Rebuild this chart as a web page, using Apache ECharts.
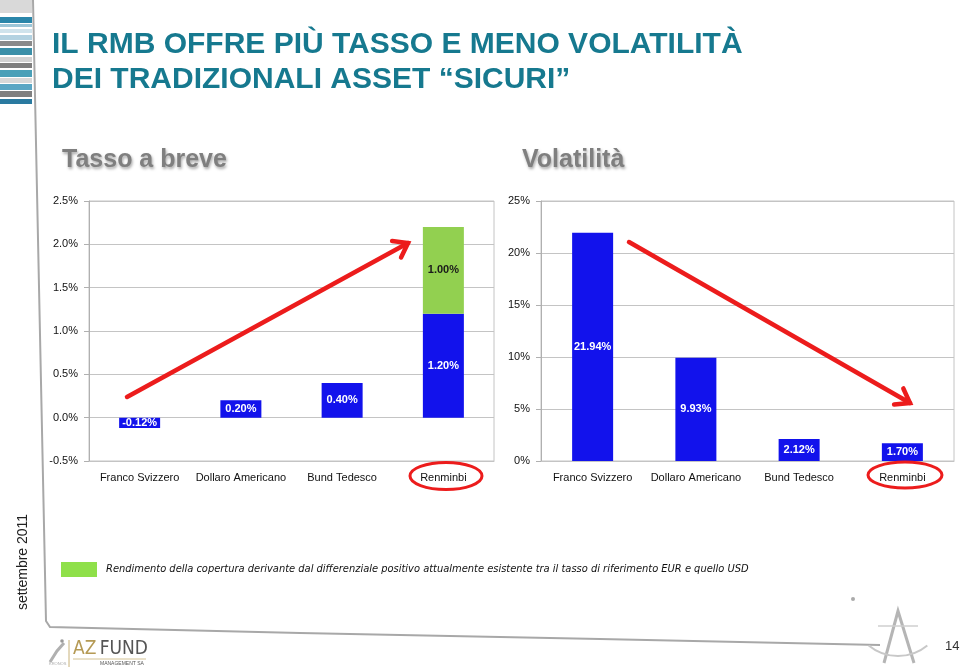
<!DOCTYPE html>
<html>
<head>
<meta charset="utf-8">
<script src="https://cdn.jsdelivr.net/npm/echarts@6/dist/echarts.min.js"></script>
<style>
html,body{margin:0;padding:0;background:#fff;}
#chart{width:960px;height:672px;}
</style>
</head>
<body>
<div id="chart"></div>
<script>
// ---- data ----
var categories = ['Franco Svizzero', 'Dollaro Americano', 'Bund Tedesco', 'Renminbi'];
var tassoBase = [-0.12, 0.20, 0.40, 1.20];
var tassoCopertura = [null, null, null, 1.00];
var volatilita = [21.94, 9.93, 2.12, 1.70];
var tassoTicks = { min: -0.5, max: 2.5, interval: 0.5 };
var volTicks = { min: 0, max: 25, interval: 5 };
var titleLines = ['IL RMB OFFRE PIÙ TASSO E MENO VOLATILITÀ', 'DEI TRADIZIONALI ASSET \u201CSICURI\u201D'];
var panelTitles = ['Tasso a breve', 'Volatilità'];
var legendText = 'Rendimento della copertura derivante dal differenziale positivo attualmente esistente tra il tasso di riferimento EUR e quello USD';

var BLUE = '#1212ec';
var GREEN = '#92d050';
var RED = '#ec1c1c';
var FONT = 'Liberation Sans, Arial, Helvetica, sans-serif';
var NARROW = 'Liberation Sans Narrow, DejaVu Sans Condensed, sans-serif';

function arrow(x1, y1, x2, y2) {
  var ang = Math.atan2(y2 - y1, x2 - x1) + Math.PI;
  var L = 16, a = 0.62;
  var w1 = [x2 + L * Math.cos(ang - a), y2 + L * Math.sin(ang - a)];
  var w2 = [x2 + L * Math.cos(ang + a), y2 + L * Math.sin(ang + a)];
  return [
    { type: 'line', z: 100, shape: { x1: x1, y1: y1, x2: x2, y2: y2 }, style: { stroke: RED, lineWidth: 4.5, lineCap: 'round' } },
    { type: 'polyline', z: 100, shape: { points: [w1, [x2, y2], w2] }, style: { stroke: RED, lineWidth: 4.5, fill: null, lineJoin: 'miter', lineCap: 'round' } }
  ];
}

var stripes = [
  [0, 13, '#d9d9d9'], [17, 6, '#2a86aa'], [24, 3, '#9cc6d8'], [29, 4, '#cfe3ec'],
  [35, 5, '#b3d2e1'], [41, 5, '#8a8a8a'], [48, 7, '#3b8fa8'], [57, 5, '#d2d2d2'],
  [63, 5, '#7f7f7f'], [70, 7, '#4aa0b8'], [78, 5, '#d8d8d8'], [84, 6, '#5aa6c4'],
  [91, 6, '#808080'], [99, 5, '#2a7aa0']
];
var graphics = [];
stripes.forEach(function (s) {
  graphics.push({ type: 'rect', shape: { x: 0, y: s[0], width: 32, height: s[1] }, style: { fill: s[2] } });
});
// frame line
graphics.push({ type: 'polyline', shape: { points: [[33, 0], [46, 621], [50, 627], [300, 633], [600, 639], [880, 645]] },
  style: { stroke: '#a8a8a8', lineWidth: 2, fill: null } });
// title
graphics.push({ type: 'text', left: 52, top: 27, style: { text: titleLines[0] + '\n' + titleLines[1], font: 'bold 30px ' + FONT, fill: '#16798f', lineHeight: 35 } });
// panel titles
[[62, 0], [522, 1]].forEach(function (p) {
  graphics.push({ type: 'text', left: p[0], top: 148, style: { text: panelTitles[p[1]], font: 'bold 25px ' + FONT, fill: '#7f7f7f',
    textShadowColor: 'rgba(0,0,0,0.35)', textShadowBlur: 3, textShadowOffsetX: 1, textShadowOffsetY: 2 } });
});
// arrows
graphics = graphics.concat(arrow(127, 397, 408, 243));
graphics = graphics.concat(arrow(629, 242, 910, 403));
// ellipses
graphics.push({ type: 'ellipse', z: 100, shape: { cx: 446, cy: 476, rx: 36, ry: 13.5 }, style: { stroke: RED, lineWidth: 3, fill: null } });
graphics.push({ type: 'ellipse', z: 100, shape: { cx: 905, cy: 475, rx: 37, ry: 13 }, style: { stroke: RED, lineWidth: 3, fill: null } });
// date rotated
graphics.push({ type: 'text', x: 23, y: 562, rotation: Math.PI / 2, style: { text: 'settembre 2011', font: '14px ' + FONT, fill: '#222', align: 'center', verticalAlign: 'middle' } });
// logo
graphics.push({ type: 'polyline', shape: { points: [[50, 662], [57, 651], [64, 643]] }, style: { stroke: '#b0b0b0', lineWidth: 3, fill: null } });
graphics.push({ type: 'circle', shape: { cx: 62, cy: 641, r: 1.8 }, style: { fill: '#999' } });
graphics.push({ type: 'text', left: 49, top: 662, style: { text: 'KRONOS', font: '4px ' + FONT, fill: '#aaa' } });
graphics.push({ type: 'line', shape: { x1: 69, y1: 640, x2: 69, y2: 667 }, style: { stroke: '#c8b27a', lineWidth: 1 } });
graphics.push({ type: 'text', left: 73, top: 640, style: { rich: { a: { font: '19px ' + NARROW, fill: '#b59a55' }, b: { font: '19px ' + NARROW, fill: '#555' } }, text: '{a|AZ} {b|FUND}' } });
graphics.push({ type: 'line', shape: { x1: 73, y1: 659, x2: 146, y2: 659 }, style: { stroke: '#c8b27a', lineWidth: 0.8 } });
graphics.push({ type: 'text', left: 100, top: 661, style: { text: 'MANAGEMENT SA', font: '5px ' + FONT, fill: '#555' } });
// compass
graphics.push({ type: 'circle', shape: { cx: 853, cy: 599, r: 2 }, style: { fill: '#aaa' } });
graphics.push({ type: 'polyline', shape: { points: [[884, 663], [898, 611], [914, 663]] }, style: { stroke: '#b5b5b5', lineWidth: 3, fill: null } });
graphics.push({ type: 'arc', shape: { cx: 898, cy: 610, r: 46, startAngle: Math.PI * 0.28, endAngle: Math.PI * 0.72 }, style: { stroke: '#c8c8c8', lineWidth: 2, fill: null } });
graphics.push({ type: 'line', shape: { x1: 878, y1: 626, x2: 918, y2: 626 }, style: { stroke: '#cfcfcf', lineWidth: 1.5 } });
graphics.push({ type: 'text', left: 945, top: 640, style: { text: '14', font: '13px ' + FONT, fill: '#333' } });

var pct1 = function (v) { return v.toFixed(1) + '%'; };
var pct0 = function (v) { return v + '%'; };
var lbl = function (p) { return p.value == null ? '' : p.value.toFixed(2) + '%'; };

var axisLabelY = { fontSize: 11, color: '#111', fontFamily: FONT, margin: 11 };
var axisLabelX = { fontSize: 11, color: '#111', fontFamily: FONT, margin: 11, interval: 0 };

var option = {
  backgroundColor: '#fff',
  animation: false,
  graphic: graphics,
  grid: [
    { left: 89, top: 201, width: 405, height: 260, show: true, borderColor: '#c4c4c4', borderWidth: 1 },
    { left: 541, top: 201, width: 413, height: 260, show: true, borderColor: '#c4c4c4', borderWidth: 1 }
  ],
  legend: {
    left: 56, top: 557, itemWidth: 36, itemHeight: 15, icon: 'rect', itemGap: 10,
    data: [{ name: legendText, itemStyle: { color: '#8fe04a' } }],
    textStyle: { fontFamily: NARROW, fontStyle: 'italic', fontSize: 11, color: '#111', padding: [0, 0, 0, 4] },
    selectedMode: false
  },
  xAxis: [
    { type: 'category', gridIndex: 0, data: categories, position: 'bottom',
      axisLine: { onZero: false, lineStyle: { color: '#c4c4c4' } }, axisTick: { show: false }, axisLabel: axisLabelX },
    { type: 'category', gridIndex: 1, data: categories, position: 'bottom',
      axisLine: { onZero: false, lineStyle: { color: '#c4c4c4' } }, axisTick: { show: false }, axisLabel: axisLabelX }
  ],
  yAxis: [
    { type: 'value', gridIndex: 0, min: tassoTicks.min, max: tassoTicks.max, interval: tassoTicks.interval,
      axisLine: { show: true, lineStyle: { color: '#b0b0b0' } }, axisTick: { show: true, length: 5, lineStyle: { color: '#b0b0b0' } },
      splitLine: { lineStyle: { color: '#c4c4c4' } }, axisLabel: Object.assign({ formatter: pct1 }, axisLabelY) },
    { type: 'value', gridIndex: 1, min: volTicks.min, max: volTicks.max, interval: volTicks.interval,
      axisLine: { show: true, lineStyle: { color: '#b0b0b0' } }, axisTick: { show: true, length: 5, lineStyle: { color: '#b0b0b0' } },
      splitLine: { lineStyle: { color: '#c4c4c4' } }, axisLabel: Object.assign({ formatter: pct0 }, axisLabelY) }
  ],
  series: [
    { name: 'Tasso', type: 'bar', xAxisIndex: 0, yAxisIndex: 0, stack: 't', data: tassoBase, barWidth: 41,
      itemStyle: { color: BLUE },
      label: { show: true, position: 'inside', formatter: lbl, color: '#fff', fontWeight: 'bold', fontSize: 11, fontFamily: FONT } },
    { name: legendText, type: 'bar', xAxisIndex: 0, yAxisIndex: 0, stack: 't', data: tassoCopertura, barWidth: 41,
      itemStyle: { color: GREEN },
      label: { show: true, position: 'inside', formatter: lbl, color: '#1a1a1a', fontWeight: 'bold', fontSize: 11, fontFamily: FONT } },
    { name: 'Volatilità', type: 'bar', xAxisIndex: 1, yAxisIndex: 1, data: volatilita, barWidth: 41,
      itemStyle: { color: BLUE },
      label: { show: true, position: 'inside', formatter: lbl, color: '#fff', fontWeight: 'bold', fontSize: 11, fontFamily: FONT } }
  ]
};
var chart = echarts.init(document.getElementById('chart'), null, { renderer: 'canvas' });
chart.setOption(option);
</script>
</body>
</html>
